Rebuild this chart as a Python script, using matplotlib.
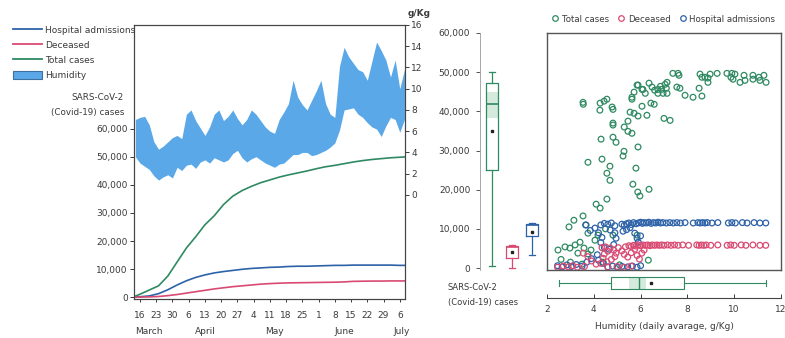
import numpy as np
import pandas as pd
import matplotlib
matplotlib.use("Agg")
import matplotlib.pyplot as plt
import matplotlib.transforms as mtransforms
from matplotlib.patches import Patch, Rectangle
from matplotlib.lines import Line2D

plt.rcParams['font.family'] = ['DejaVu Sans']

W, H = 785, 338
TEXT = '#3a3a3a'
C_TOTAL = '#2f8a62'
C_DEC = '#d94a72'
C_HOSP = '#2d62a8'
C_HUM = '#5aa8e8'

# ---- left panel: cumulative counts (thousands) ----
curve_dates = pd.to_datetime([
    "2020-03-13", "2020-03-16", "2020-03-20", "2020-03-24", "2020-03-28",
    "2020-04-01", "2020-04-05", "2020-04-09", "2020-04-13", "2020-04-17",
    "2020-04-21", "2020-04-25", "2020-04-29", "2020-05-03", "2020-05-07",
    "2020-05-11", "2020-05-15", "2020-05-19", "2020-05-23", "2020-05-27",
    "2020-05-31", "2020-06-04", "2020-06-08", "2020-06-12", "2020-06-16",
    "2020-06-20", "2020-06-24", "2020-06-28", "2020-07-02", "2020-07-06",
    "2020-07-08"])
total_cases = [0, 1.0, 2.5, 4.0, 7.5, 12.5, 17.5, 21.5, 25.8, 29.0, 33.0, 36.0,
               38.0, 39.5, 40.8, 41.8, 42.8, 43.6, 44.3, 45.0, 45.8, 46.5, 47.0,
               47.6, 48.2, 48.7, 49.1, 49.4, 49.7, 49.9, 50.0]
hospital = [0, 0.1, 0.4, 1.2, 2.6, 4.3, 5.8, 7.0, 7.9, 8.6, 9.1, 9.5, 9.9, 10.2,
            10.4, 10.6, 10.7, 10.9, 11.0, 11.0, 11.1, 11.2, 11.3, 11.3, 11.4,
            11.4, 11.4, 11.4, 11.4, 11.3, 11.3]
deceased = [0, 0, 0.05, 0.2, 0.5, 0.9, 1.4, 1.9, 2.4, 2.9, 3.3, 3.7, 4.0, 4.3,
            4.6, 4.8, 4.95, 5.05, 5.1, 5.15, 5.2, 5.25, 5.3, 5.4, 5.6, 5.65,
            5.7, 5.7, 5.75, 5.75, 5.75]

# daily humidity range (g/Kg), every second day from 14 March
hum_upper = [7.1, 7.3, 7.4, 6.6, 5.0, 4.3, 4.6, 5.0, 5.4, 5.6, 5.3, 7.6, 8.0, 7.0,
             6.3, 5.6, 6.4, 7.6, 8.0, 7.0, 7.4, 8.0, 7.2, 6.6, 7.1, 8.0, 7.6, 7.0,
             6.4, 6.0, 5.8, 7.1, 7.8, 8.6, 10.8, 9.2, 8.5, 8.0, 8.9, 9.8, 10.8,
             8.6, 7.6, 7.3, 12.1, 13.9, 13.0, 12.4, 11.8, 11.6, 10.8, 12.6, 14.4,
             13.6, 12.7, 11.1, 12.7, 10.0, 11.8]
hum_lower = [3.6, 3.0, 2.7, 2.4, 1.8, 1.4, 1.7, 1.9, 1.6, 2.6, 2.3, 2.8, 2.9, 2.5,
             3.1, 3.3, 3.0, 3.5, 3.3, 3.1, 3.3, 3.9, 4.2, 3.5, 3.1, 3.4, 3.6, 3.3,
             3.0, 2.8, 2.6, 2.9, 3.0, 3.4, 3.8, 3.8, 4.0, 4.0, 3.7, 3.8, 4.0, 4.2,
             4.5, 4.9, 6.1, 8.0, 8.1, 8.2, 7.6, 7.3, 6.8, 6.4, 6.2, 5.5, 6.5, 7.3,
             7.1, 5.9, 7.1]
hum_dates = pd.date_range("2020-03-14", periods=len(hum_upper), freq="2D")

week_ticks = pd.date_range("2020-03-16", "2020-07-06", freq="7D")
months = ["March", "April", "May", "June", "July"]
month_pos = pd.to_datetime(["2020-03-20", "2020-04-13", "2020-05-13",
                            "2020-06-12", "2020-07-07"])

# ---- right panel: scatter (humidity g/Kg, cases in thousands) ----
total_pts = [
    (3.54, 42.3), (3.55, 41.8), (4.27, 42.1), (4.44, 42.6), (4.56, 43.1), (4.26, 40.3),
    (4.78, 41.1), (4.82, 40.5), (5.63, 43.6), (5.63, 43.1), (5.89, 46.7), (6.06, 45.6),
    (6.20, 44.6), (5.72, 44.9), (6.36, 47.2), (6.49, 46.2), (6.74, 45.6), (6.74, 44.6),
    (5.55, 39.8), (5.72, 39.5), (5.89, 38.8), (6.06, 41.3), (6.27, 39.0), (6.44, 42.1),
    (6.58, 41.8), (4.82, 37.0), (4.82, 36.5), (5.46, 37.5), (5.30, 36.0), (5.46, 34.9),
    (5.63, 34.4), (4.31, 32.9), (4.82, 33.4), (4.95, 32.1), (5.89, 30.9), (5.29, 29.8),
    (5.25, 28.6), (3.75, 27.0), (4.35, 27.8), (4.69, 26.0), (5.80, 25.5), (7.00, 38.2),
    (7.38, 49.7), (7.60, 49.7), (7.64, 49.2), (7.13, 47.4), (7.55, 46.2), (7.68, 45.9),
    (7.90, 44.1), (8.24, 43.6), (8.50, 45.9), (8.62, 43.9), (8.54, 49.5), (8.62, 48.7),
    (8.75, 48.7), (8.88, 48.5), (8.88, 47.4), (8.97, 49.5), (9.27, 49.7), (9.69, 49.7),
    (9.90, 49.7), (9.86, 48.7), (9.95, 48.2), (10.03, 49.5), (10.25, 47.4), (10.42, 49.2),
    (10.46, 47.9), (10.80, 49.2), (10.80, 48.2), (11.06, 48.7), (11.10, 47.9), (11.27, 49.2),
    (11.36, 47.4), (7.26, 37.7), (6.60, 45.4), (6.96, 44.6), (7.13, 44.6), (6.10, 45.6),
    (5.85, 46.7), (6.85, 46.4), (6.90, 45.6), (7.05, 46.9), (7.10, 45.9),
    (4.56, 24.2), (4.69, 22.4), (5.67, 21.4), (5.88, 19.4), (5.97, 18.4), (6.36, 20.1),
    (4.56, 17.6), (4.10, 16.3), (4.27, 15.3), (3.54, 13.3), (3.15, 12.2), (2.94, 10.5),
    (3.67, 11.0), (3.75, 8.9), (2.47, 4.6), (2.77, 5.4), (2.98, 5.1), (3.20, 5.9),
    (3.32, 3.8), (4.05, 7.1), (4.18, 8.4), (3.41, 6.6), (3.58, 5.1), (4.82, 8.4),
    (3.75, 3.6), (3.88, 4.6), (6.33, 2.0), (5.85, 8.4), (4.50, 10.0), (2.60, 2.2),
    (3.00, 1.5), (3.50, 1.0), (4.40, 1.5), (5.10, 0.8)]
hosp_pts = [
    (4.30, 11.0), (4.45, 11.4), (4.60, 11.2), (4.75, 11.5), (4.90, 10.8), (5.20, 11.2),
    (5.30, 10.9), (5.40, 11.3), (5.50, 11.5), (5.60, 11.1), (5.70, 11.6), (5.80, 11.3),
    (5.90, 11.5), (6.00, 11.7), (6.08, 11.4), (6.15, 11.6), (6.25, 11.5), (6.35, 11.7),
    (6.45, 11.4), (6.55, 11.6), (6.65, 11.5), (6.75, 11.7), (6.85, 11.5), (6.95, 11.6),
    (7.10, 11.5), (7.25, 11.6), (7.40, 11.5), (7.55, 11.6), (7.70, 11.5), (7.90, 11.6),
    (8.25, 11.5), (8.45, 11.6), (8.55, 11.5), (8.65, 11.6), (8.75, 11.5), (8.85, 11.6),
    (9.05, 11.5), (9.30, 11.6), (9.75, 11.5), (9.90, 11.6), (10.05, 11.5), (10.35, 11.6),
    (10.55, 11.5), (10.85, 11.6), (11.10, 11.5), (11.35, 11.5),
    (3.65, 11.0), (4.05, 10.2), (4.20, 9.0), (4.35, 7.8), (4.30, 6.5), (4.45, 5.2),
    (4.65, 4.8), (4.85, 6.0), (4.95, 7.6), (4.90, 9.0), (4.70, 9.7), (5.25, 9.4),
    (5.40, 9.8), (5.55, 10.3), (5.75, 8.9), (5.85, 7.6), (5.90, 6.6), (6.00, 8.2),
    (3.85, 9.6), (2.45, 0.6), (2.65, 0.3), (2.85, 0.8), (3.05, 0.4), (3.25, 0.9),
    (3.50, 0.5), (3.70, 1.5), (3.90, 2.4), (4.15, 3.4), (4.60, 0.3), (4.80, 0.5),
    (5.00, 0.2), (5.20, 0.4), (5.45, 0.3), (5.65, 0.5), (5.85, 0.2), (6.00, 0.6),
    (4.40, 1.2), (4.20, 2.0)]
dec_pts = [
    (5.35, 5.4), (5.50, 5.7), (5.60, 5.5), (5.70, 5.8), (5.80, 5.6), (5.90, 5.9),
    (6.00, 5.7), (6.10, 5.9), (6.20, 5.8), (6.30, 5.9), (6.40, 5.7), (6.50, 5.9),
    (6.60, 5.8), (6.70, 5.9), (6.80, 5.8), (6.90, 5.9), (7.00, 5.8), (7.15, 5.9),
    (7.30, 5.8), (7.45, 5.9), (7.60, 5.8), (7.80, 5.9), (8.05, 5.8), (8.40, 5.9),
    (8.50, 5.8), (8.60, 5.9), (8.70, 5.8), (8.80, 5.9), (9.00, 5.8), (9.30, 5.9),
    (9.70, 5.8), (9.85, 5.9), (10.00, 5.8), (10.30, 5.9), (10.50, 5.8), (10.80, 5.9),
    (11.10, 5.8), (11.35, 5.8),
    (4.35, 5.2), (4.50, 5.4), (4.70, 5.1), (4.85, 4.6), (4.95, 3.8), (4.90, 2.9),
    (4.75, 2.2), (4.55, 1.6), (4.40, 2.5), (4.45, 3.6), (4.60, 4.3), (4.30, 1.2),
    (5.20, 4.4), (5.30, 3.5), (5.45, 2.8), (5.60, 3.9), (5.75, 4.8), (5.85, 3.2),
    (5.95, 2.3), (6.05, 3.8), (6.15, 4.6), (5.05, 5.2),
    (3.55, 3.8), (3.75, 2.9), (3.90, 1.8), (4.10, 1.0), (2.45, 0.2), (2.70, 0.5),
    (2.90, 0.3), (3.10, 0.6), (3.30, 0.2), (3.60, 0.4), (4.60, 0.2), (5.00, 0.4),
    (5.30, 0.2), (5.60, 0.5)]

# box summaries (thousands / g/Kg)
box_stats = [
    dict(whislo=0.5, q1=25.0, med=42.0, q3=47.2, whishi=50.0, mean=35.0),
    dict(whislo=0.0, q1=2.5, med=5.3, q3=5.6, whishi=5.9, mean=4.1),
    dict(whislo=3.3, q1=8.2, med=10.9, q3=11.3, whishi=11.5, mean=9.2),
]
box_colors = [C_TOTAL, C_DEC, C_HOSP]
hum_stats = dict(whislo=2.5, q1=4.73, med=5.93, q3=7.85, whishi=11.37, mean=6.44)


def fx(x):
    return x / W


def fy(y):
    return 1 - y / H


fig = plt.figure(figsize=(W / 100, H / 100), dpi=100)

# ================= left panel =================
ax = fig.add_axes([fx(134), fy(299), 271 / W, 274 / H])
ax2 = ax.twinx()
ax.set_zorder(ax2.get_zorder() + 1)
ax.patch.set_visible(False)

ax2.fill_between(hum_dates, hum_lower, hum_upper, color=C_HUM, lw=0)
ax2.set_ylim(-9.8, 16)
ax2.set_yticks(range(0, 17, 2))
ax2.tick_params(axis='y', labelsize=6.5, colors=TEXT, length=3, width=0.7, pad=1.5)

ax.plot(curve_dates, total_cases, color=C_TOTAL, lw=1.2)
ax.plot(curve_dates, hospital, color=C_HOSP, lw=1.2)
ax.plot(curve_dates, deceased, color=C_DEC, lw=1.2)
ax.set_ylim(-0.7, 97.1)
ax.set_yticks(range(0, 61, 10))
ax.set_yticklabels([f"{v * 1000:,}" for v in range(0, 61, 10)])
ax.tick_params(axis='y', labelsize=6.5, colors=TEXT, length=3, width=0.7, pad=1.5)
ax.set_xlim(pd.Timestamp("2020-03-13 10:00"), pd.Timestamp("2020-07-08 06:00"))
ax.set_xticks(week_ticks)
ax.set_xticklabels([str(d.day) for d in week_ticks])
ax.tick_params(axis='x', labelsize=6.5, colors=TEXT, length=2.5, width=0.7, pad=6)
for a in (ax, ax2):
    for s in a.spines.values():
        s.set_color('#444444')
        s.set_linewidth(0.8)

trans = mtransforms.blended_transform_factory(ax.transData, fig.transFigure)
for m, d in zip(months, month_pos):
    ax.text(d, fy(332), m, transform=trans, ha='center', va='center',
            fontsize=6.5, color=TEXT)

fig.text(fx(124), fy(97), "SARS-CoV-2", ha='right', va='center', fontsize=6.3, color=TEXT)
fig.text(fx(124), fy(112), "(Covid-19) cases", ha='right', va='center', fontsize=6.3, color=TEXT)
fig.text(fx(419), fy(14), "g/Kg", ha='center', va='center', fontsize=6.5,
         color=TEXT, fontweight='bold')

handles = [Line2D([], [], color=C_HOSP, lw=1.3),
           Line2D([], [], color=C_DEC, lw=1.3),
           Line2D([], [], color=C_TOTAL, lw=1.3),
           Patch(facecolor=C_HUM, edgecolor='#3d6fa0', lw=0.8)]
fig.legend(handles, ["Hospital admissions", "Deceased", "Total cases", "Humidity"],
           loc='upper left', bbox_to_anchor=(fx(8), fy(21)), frameon=False,
           fontsize=6.5, handlelength=3.3, handleheight=1.0, handletextpad=0.3,
           labelspacing=0.65, borderpad=0, labelcolor=TEXT)

# ================= right panel: boxplots =================
axb = fig.add_axes([fx(480), fy(270), 66 / W, 237 / H])
axb.add_patch(Rectangle((1 - 0.31, 38.3), 0.62, 6.7, facecolor='#d3eadc', lw=0, zorder=1))
for i, (st, col) in enumerate(zip(box_stats, box_colors)):
    axb.bxp([st], positions=[i + 1], widths=0.62, showmeans=True, showfliers=False,
            manage_ticks=False,
            boxprops=dict(color=col, lw=0.9),
            whiskerprops=dict(color=col, lw=0.9),
            capprops=dict(color=col, lw=0.9),
            medianprops=dict(color=col, lw=1.2),
            meanprops=dict(marker='s', markerfacecolor='#222222',
                           markeredgecolor='#222222', markersize=2))
axb.set_xlim(0.4, 3.7)
axb.set_ylim(-0.5, 60)
for s in ('top', 'right', 'bottom'):
    axb.spines[s].set_visible(False)
axb.spines['left'].set_color('#999999')
axb.spines['left'].set_linewidth(0.6)
axb.spines['left'].set_linestyle((0, (1, 1)))
axb.set_xticks([])
axb.set_yticks(range(0, 61, 10))
axb.set_yticklabels([f"{v * 1000:,}" for v in range(0, 61, 10)])
axb.tick_params(axis='y', labelsize=6.5, colors=TEXT, length=3, width=0.6, pad=4)

fig.text(fx(448), fy(287), "SARS-CoV-2", ha='left', va='center', fontsize=6, color=TEXT)
fig.text(fx(448), fy(302), "(Covid-19) cases", ha='left', va='center', fontsize=6, color=TEXT)

# ================= right panel: scatter =================
axs = fig.add_axes([fx(547), fy(270), 234 / W, 237 / H])
axs.set_xlim(2, 12)
axs.set_ylim(-0.5, 60)
axs.set_xticks([])
axs.set_yticks([])
for s in axs.spines.values():
    s.set_color('#555555')
    s.set_linewidth(1.0)

for pts, col in ((total_pts, C_TOTAL), (hosp_pts, C_HOSP), (dec_pts, C_DEC)):
    hx, cy = zip(*pts)
    axs.scatter(hx, cy, s=17, facecolors='none', edgecolors=col, linewidths=0.9)

leg_handles = [Line2D([], [], ls='', marker='o', mfc='none', mec=c, ms=4, mew=0.9)
               for c in (C_TOTAL, C_DEC, C_HOSP)]
fig.legend(leg_handles, ["Total cases", "Deceased", "Hospital admissions"],
           loc='center', bbox_to_anchor=(fx(663), fy(19)), ncol=3, frameon=False,
           fontsize=6.2, handletextpad=0.2, columnspacing=0.9, borderpad=0,
           handlelength=1.1, labelcolor=TEXT)

# ================= right panel: humidity box + axis =================
axh = fig.add_axes([fx(547), fy(298), 234 / W, 26 / H])
axh.add_patch(Rectangle((5.5, 0.35), 0.75, 0.46, facecolor='#d3eadc', lw=0, zorder=1))
axh.bxp([hum_stats], positions=[0.58], widths=0.46, orientation='horizontal',
        showmeans=True, showfliers=False, manage_ticks=False,
        boxprops=dict(color=C_TOTAL, lw=0.8),
        whiskerprops=dict(color=C_TOTAL, lw=0.8),
        capprops=dict(color=C_TOTAL, lw=0.8),
        medianprops=dict(color=C_TOTAL, lw=1.0),
        meanprops=dict(marker='s', markerfacecolor='#222222',
                       markeredgecolor='#222222', markersize=2))
axh.set_xlim(2, 12)
axh.set_ylim(0, 1)
for s in ('top', 'right', 'left'):
    axh.spines[s].set_visible(False)
axh.spines['bottom'].set_color('#444444')
axh.spines['bottom'].set_linewidth(0.8)
axh.set_yticks([])
axh.set_xticks(range(2, 13, 2))
axh.tick_params(axis='x', direction='in', length=3, width=0.7, labelsize=6.5,
                colors=TEXT, pad=5)
axh.set_xlabel("Humidity (daily avarage, g/Kg)", fontsize=6.5, color=TEXT, labelpad=6)

fig.savefig("out.png", dpi=100)
